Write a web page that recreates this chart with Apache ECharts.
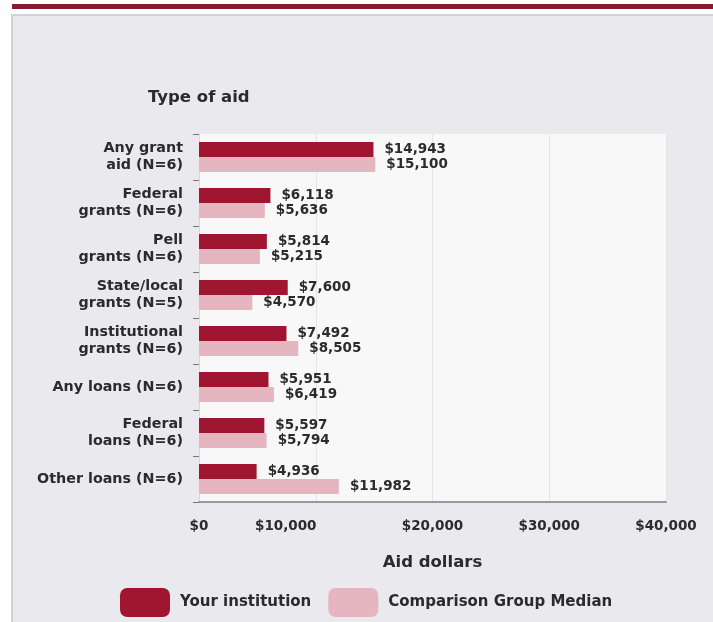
<!DOCTYPE html>
<html>
<head>
<meta charset="utf-8">
<script src="https://cdn.jsdelivr.net/npm/echarts@6/dist/echarts.min.js"></script>
<style>html,body{margin:0;padding:0;background:#fff}#c{width:713px;height:622px}</style>
</head>
<body>
<div id="c"></div>
<script>
const categories = ["Any grant\naid (N=6)", "Federal\ngrants (N=6)", "Pell\ngrants (N=6)", "State/local\ngrants (N=5)", "Institutional\ngrants (N=6)", "Any loans (N=6)", "Federal\nloans (N=6)", "Other loans (N=6)"];
const yourInstitution = [14943, 6118, 5814, 7600, 7492, 5951, 5597, 4936];
const comparisonMedian = [15100, 5636, 5215, 4570, 8505, 6419, 5794, 11982];
const xTicks = [0, 10000, 20000, 30000, 40000];
const seriesNames = ["Your institution", "Comparison Group Median"];

const fmt = v => '$' + Number(v).toLocaleString('en-US');
const FONT = '"DejaVu Sans", Verdana, sans-serif';
const TXT = '#2b2b2b';
const chart = echarts.init(document.getElementById('c'), null, {renderer: 'canvas'});
chart.setOption({
  backgroundColor: '#ffffff',
  animation: false,
  textStyle: {fontFamily: FONT},
  graphic: [
    {type: 'rect', z: -10, shape: {x: 12, y: 4, width: 701, height: 5}, style: {fill: '#8a1a2d'}},
    {type: 'rect', z: -10, shape: {x: 12, y: 15, width: 720, height: 640}, style: {fill: '#eae9ed', stroke: '#d2d2d4', lineWidth: 2}}
  ],
  title: {
    text: 'Type of aid', left: 143, top: 84,
    textStyle: {fontSize: 16.5, fontWeight: 'bold', color: TXT, fontFamily: FONT}
  },
  legend: {
    left: 115, top: 583, itemWidth: 50, itemHeight: 29, itemGap: 17,
    icon: 'roundRect',
    textStyle: {fontSize: 15, fontWeight: 'bold', color: TXT, fontFamily: FONT, padding: [0, 0, 0, 5]},
    data: seriesNames
  },
  grid: {
    left: 199, right: 47, top: 134, bottom: 120, containLabel: false,
    show: true, backgroundColor: '#f8f8f9', borderWidth: 0
  },
  xAxis: {
    type: 'value', min: 0, max: 40000, interval: 10000,
    name: 'Aid dollars', nameLocation: 'middle', nameGap: 52,
    nameTextStyle: {fontSize: 16.5, fontWeight: 'bold', color: TXT, fontFamily: FONT},
    axisLine: {show: true, lineStyle: {color: '#9a9a9a', width: 2}},
    axisTick: {show: false},
    splitLine: {show: true, lineStyle: {color: '#e4e4e6'}},
    axisLabel: {
      margin: 17, fontSize: 13.5, fontWeight: 'bold', color: TXT, fontFamily: FONT,
      formatter: v => v === xTicks[1] ? '{s|' + fmt(v) + '}' : fmt(v),
      rich: {s: {fontSize: 13.5, fontWeight: 'bold', color: TXT, fontFamily: FONT, padding: [0, 60, 0, 0]}}
    }
  },
  yAxis: {
    type: 'category', inverse: true, data: categories,
    axisLine: {show: true, lineStyle: {color: '#d8d8d8'}},
    axisTick: {show: true, length: 6, lineStyle: {color: '#777'}},
    axisLabel: {fontSize: 14.3, fontWeight: 'bold', color: TXT, fontFamily: FONT, lineHeight: 17, margin: 16}
  },
  series: [
    {
      name: seriesNames[0], type: 'bar', data: yourInstitution, barWidth: 15, barGap: '0%',
      itemStyle: {color: '#a01630'},
      label: {show: true, position: 'right', distance: 11, formatter: p => fmt(p.value),
        fontSize: 13.5, fontWeight: 'bold', color: TXT, fontFamily: FONT}
    },
    {
      name: seriesNames[1], type: 'bar', data: comparisonMedian, barWidth: 15,
      itemStyle: {color: '#e5b5c0'},
      label: {show: true, position: 'right', distance: 11, formatter: p => fmt(p.value),
        fontSize: 13.5, fontWeight: 'bold', color: TXT, fontFamily: FONT}
    }
  ]
});
</script>
</body>
</html>
